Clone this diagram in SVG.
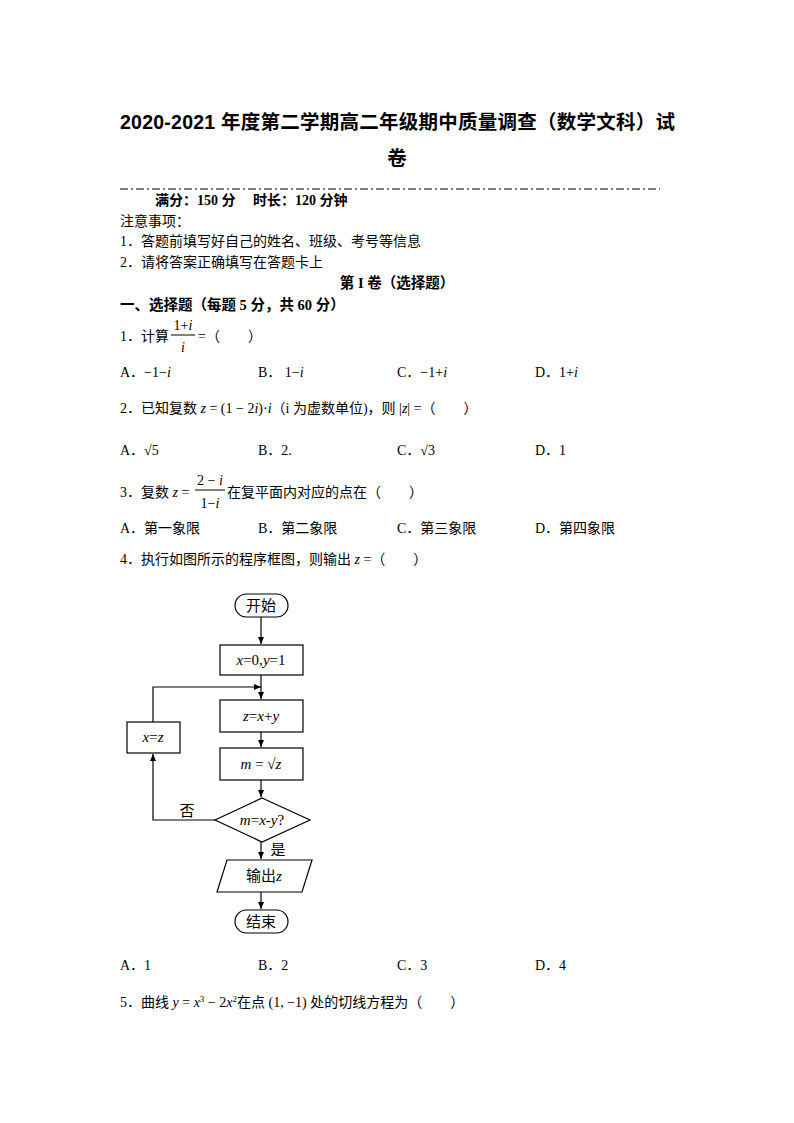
<svg xmlns="http://www.w3.org/2000/svg" width="794" height="1123" viewBox="0 0 794 1123">
<style>
text{font-family:"Liberation Serif","Noto Sans CJK SC",serif;font-size:14px;fill:#000}
.t{font-family:"Liberation Sans","Noto Sans CJK SC",sans-serif;font-size:19.5px;font-weight:bold}
.b{font-weight:bold;font-size:14.5px}
.i{font-style:italic}
.s{fill:#fff;stroke:#000;stroke-width:1.2}
.l{fill:none;stroke:#000;stroke-width:1.2}
.f{font-size:15px}
</style>
<defs><marker id="a" markerWidth="8" markerHeight="8" refX="7" refY="4" orient="auto" markerUnits="userSpaceOnUse"><path d="M0,1 L7,4 L0,7 Z" fill="#000"/></marker></defs>
<text class="t" x="120" y="129" textLength="555" lengthAdjust="spacing">2020-2021 年度第二学期高二年级期中质量调查（数学文科）试</text>
<text class="t" x="397" y="165" text-anchor="middle">卷</text>
<line x1="120" y1="189" x2="660" y2="189" stroke="#000" stroke-width="1.2" stroke-dasharray="8,3,2,3"/>
<text x="155" y="205" font-weight="bold" font-size="12">满分：150 分　 时长：120 分钟</text>
<text x="120" y="226">注意事项：</text>
<text x="120" y="246">1．答题前填写好自己的姓名、班级、考号等信息</text>
<text x="120" y="267">2．请将答案正确填写在答题卡上</text>
<text class="b" x="397" y="288" text-anchor="middle">第 I 卷（选择题）</text>
<text class="b" x="120" y="310">一、选择题（每题 5 分，共 60 分）</text>
<text x="120" y="341">1．计算</text>
<text x="183" y="330" text-anchor="middle">1+<tspan class="i">i</tspan></text>
<line x1="171" y1="335" x2="195" y2="335" stroke="#000"/>
<text x="183" y="352" text-anchor="middle" class="i">i</text>
<text x="198" y="341">=（　　）</text>
<g><text x="120" y="377">A．−1−<tspan class="i">i</tspan></text><text x="258" y="377">B．  1−<tspan class="i">i</tspan></text><text x="397" y="377">C．−1+<tspan class="i">i</tspan></text><text x="535" y="377">D．1+<tspan class="i">i</tspan></text></g>
<text x="120" y="413">2．已知复数 <tspan class="i">z</tspan> = (1 − 2<tspan class="i">i</tspan>)·<tspan class="i">i</tspan>（i 为虚数单位)，则 |<tspan class="i">z</tspan>| =（　　）</text>
<g><text x="120" y="455">A．√5</text><text x="258" y="455">B．2.</text><text x="397" y="455">C．√3</text><text x="535" y="455">D．1</text></g>
<text x="120" y="497">3．复数 <tspan class="i">z</tspan> =</text>
<text x="210" y="485" text-anchor="middle">2 − <tspan class="i">i</tspan></text>
<line x1="195" y1="490" x2="225" y2="490" stroke="#000"/>
<text x="210" y="508" text-anchor="middle">1−<tspan class="i">i</tspan></text>
<text x="227" y="497">在复平面内对应的点在（　　）</text>
<g><text x="120" y="533">A．第一象限</text><text x="258" y="533">B．第二象限</text><text x="397" y="533">C．第三象限</text><text x="535" y="533">D．第四象限</text></g>
<text x="120" y="564">4．执行如图所示的程序框图，则输出 <tspan class="i">z</tspan> =（　　）</text>
<g id="connectors">
<line class="l" x1="261" y1="617" x2="261" y2="644" marker-end="url(#a)"/>
<line class="l" x1="261" y1="675" x2="261" y2="699" marker-end="url(#a)"/>
<polyline class="l" points="153,722 153,687 261,687" marker-end="url(#a)"/>
<line class="l" x1="261" y1="732" x2="261" y2="747" marker-end="url(#a)"/>
<line class="l" x1="261" y1="780" x2="261" y2="797" marker-end="url(#a)"/>
<polyline class="l" points="215,820 153,820 153,754" marker-end="url(#a)"/>
<line class="l" x1="261" y1="842" x2="261" y2="859" marker-end="url(#a)"/>
<line class="l" x1="261" y1="892" x2="261" y2="909" marker-end="url(#a)"/>
</g>
<g id="start"><rect class="s" x="235" y="594" width="53" height="23" rx="11.5"/><text class="f" x="261" y="611" text-anchor="middle">开始</text></g>
<g id="init"><rect class="s" x="220" y="645" width="83" height="30"/><text class="f i" x="261" y="665" text-anchor="middle">x<tspan font-style="normal">=0,</tspan>y<tspan font-style="normal">=1</tspan></text></g>
<g id="sum"><rect class="s" x="220" y="700" width="83" height="32"/><text class="f i" x="261" y="721" text-anchor="middle">z<tspan font-style="normal">=</tspan>x<tspan font-style="normal">+</tspan>y</text></g>
<g id="sqrt"><rect class="s" x="220" y="748" width="83" height="32"/><text class="f" x="261" y="769" text-anchor="middle"><tspan class="i">m</tspan> = √<tspan class="i">z</tspan></text></g>
<g id="xz"><rect class="s" x="127" y="722" width="53" height="31"/><text class="f i" x="153" y="742" text-anchor="middle">x<tspan font-style="normal">=</tspan>z</text></g>
<g id="cond"><polygon class="s" points="262,798 310,820 262,842 215,820"/><text class="f i" x="262" y="825" text-anchor="middle">m<tspan font-style="normal">=</tspan>x<tspan font-style="normal">-</tspan>y<tspan font-style="normal">?</tspan></text></g>
<text class="f" x="187" y="816" text-anchor="middle">否</text>
<text class="f" x="278" y="855" text-anchor="middle">是</text>
<g id="out"><polygon class="s" points="227,860 312,860 302,892 217,892"/><text class="f" x="264" y="881" text-anchor="middle">输出<tspan class="i">z</tspan></text></g>
<g id="end"><rect class="s" x="235" y="910" width="53" height="23" rx="11.5"/><text class="f" x="261" y="927" text-anchor="middle">结束</text></g>
<g><text x="120" y="970">A．1</text><text x="258" y="970">B．2</text><text x="397" y="970">C．3</text><text x="535" y="970">D．4</text></g>
<text x="120" y="1007">5．曲线 <tspan class="i">y</tspan> = <tspan class="i">x</tspan><tspan font-size="9" dy="-5">3</tspan><tspan dy="5"> − 2</tspan><tspan class="i">x</tspan><tspan font-size="9" dy="-5">2</tspan><tspan dy="5">在点 (1, −1) 处的切线方程为（　　）</tspan></text>
</svg>
